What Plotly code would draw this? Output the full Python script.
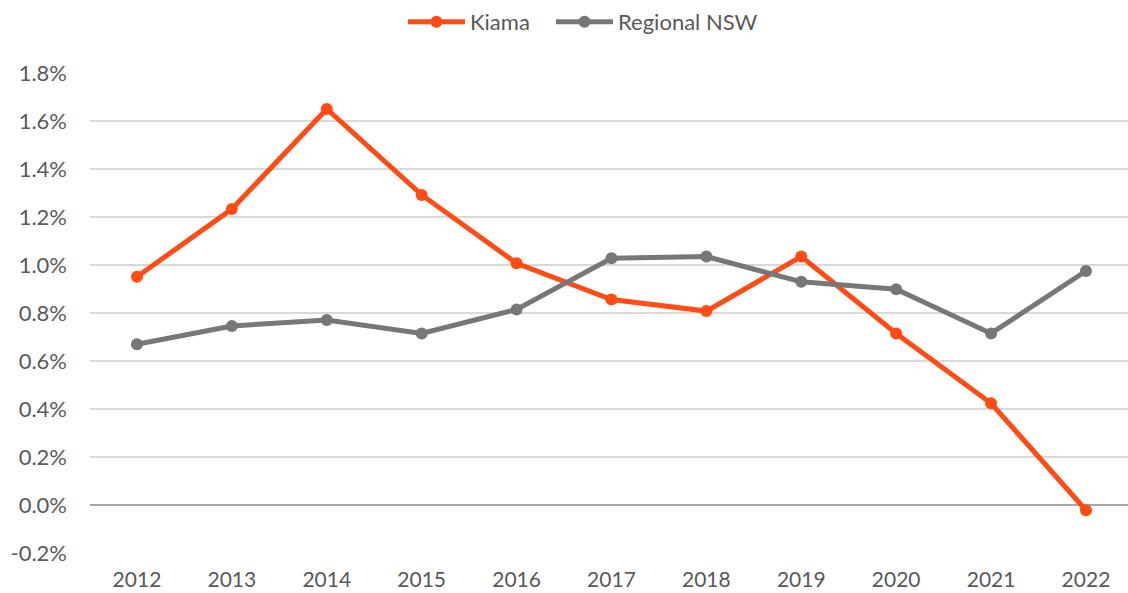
import plotly.graph_objects as go

years = ["2012", "2013", "2014", "2015", "2016", "2017", "2018", "2019", "2020", "2021", "2022"]
kiama = [0.951, 1.233, 1.650, 1.292, 1.007, 0.856, 0.808, 1.035, 0.715, 0.424, -0.022]
regional_nsw = [0.670, 0.746, 0.771, 0.715, 0.815, 1.028, 1.035, 0.930, 0.899, 0.715, 0.975]
y_ticks = [-0.2, 0.0, 0.2, 0.4, 0.6, 0.8, 1.0, 1.2, 1.4, 1.6, 1.8]
y_tick_labels = ["-0.2%", "0.0%", "0.2%", "0.4%", "0.6%", "0.8%", "1.0%", "1.2%", "1.4%", "1.6%", "1.8%"]

ORANGE = "#FF4B14"
GREY = "#777777"
TEXT = "#595959"

fig = go.Figure()
fig.add_trace(go.Scatter(
    x=list(range(len(years))), y=kiama, name="Kiama", mode="lines+markers",
    line=dict(color=ORANGE, width=5), marker=dict(color=ORANGE, size=12),
    legend="legend",
))
fig.add_trace(go.Scatter(
    x=list(range(len(years))), y=regional_nsw, name="Regional NSW", mode="lines+markers",
    line=dict(color=GREY, width=5), marker=dict(color=GREY, size=12),
    legend="legend2",
))

legend_common = dict(orientation="h", xref="container", yref="container",
                     xanchor="left", y=1 - 22 / 593, yanchor="middle",
                     font=dict(size=22, color=TEXT), itemwidth=57,
                     bgcolor="rgba(0,0,0,0)")

fig.update_layout(
    width=1128, height=593,
    margin=dict(l=90, r=0, t=73, b=40, autoexpand=False),
    paper_bgcolor="white", plot_bgcolor="white",
    font=dict(family="Lato, Carlito, sans-serif", size=22, color=TEXT),
    showlegend=True,
    legend=dict(x=403 / 1128, **legend_common),
    legend2=dict(x=551 / 1128, **legend_common),
    xaxis=dict(
        range=[-0.495, 10.443], tickmode="array",
        tickvals=list(range(len(years))), ticktext=years,
        showgrid=False, zeroline=False, showline=False, ticks="",
        ticklabelstandoff=12, automargin=False, tickfont=dict(size=21),
    ),
    yaxis=dict(
        range=[-0.2, 1.8], tickmode="array", tickvals=y_ticks, ticktext=y_tick_labels,
        showgrid=True, gridcolor="#D9D9D9", gridwidth=1.5,
        zeroline=True, zerolinecolor="#A6A6A6", zerolinewidth=1.5,
        showline=False, ticks="", ticklabelstandoff=22, automargin=False,
    ),
)

fig.write_html("out.html", config={"displayModeBar": False},
               post_script="document.body.style.margin='0px';document.body.style.overflow='hidden';")
